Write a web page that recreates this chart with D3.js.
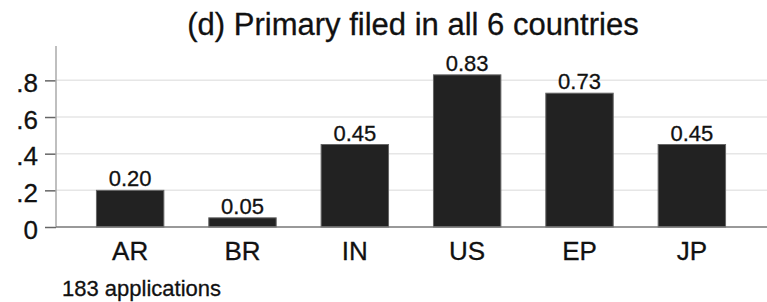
<!DOCTYPE html>
<html>
<head>
<meta charset="utf-8">
<script src="https://cdn.jsdelivr.net/npm/d3@7"></script>
<style>
  body { margin: 0; background: #fff; }
  text { font-family: "Liberation Sans", Arial, Helvetica, sans-serif; fill: #111; stroke: #111; stroke-width: 0.3px; }
</style>
</head>
<body>
<svg id="chart" width="767" height="302"></svg>
<script>
const countries = ['AR', 'BR', 'IN', 'US', 'EP', 'JP'];
const shares = [0.20, 0.05, 0.45, 0.83, 0.73, 0.45];
const yTicks = [0, 0.2, 0.4, 0.6, 0.8];
const title = '(d) Primary filed in all 6 countries';
const note = '183 applications';

const svg = d3.select('#chart');
const width = 767;

const x = d3.scaleBand()
    .domain(countries)
    .range([56, 766])
    .paddingInner(0.4)
    .paddingOuter(0.36);

const y = d3.scaleLinear()
    .domain([0, 1])
    .range([227, 43.7]);

// gridlines
svg.append('g')
    .selectAll('line')
    .data(yTicks.filter(d => d > 0))
    .join('line')
    .attr('x1', 56)
    .attr('x2', width)
    .attr('y1', d => y(d))
    .attr('y2', d => y(d))
    .attr('stroke', '#e6e6e6')
    .attr('stroke-width', 1.5);

// y axis
const yAxis = svg.append('g')
    .attr('transform', 'translate(56,0)')
    .call(d3.axisLeft(y)
        .tickValues(yTicks)
        .tickSize(11)
        .tickPadding(7)
        .tickFormat(d => d === 0 ? '0' : d3.format('.1f')(d).replace(/^0/, '')));
yAxis.select('.domain').remove();
yAxis.selectAll('.tick line').attr('stroke', '#666').attr('stroke-width', 1.5);
yAxis.selectAll('.tick text')
    .attr('dy', '11')
    .style('font-size', '26px')
    .style('font-family', '"Liberation Sans", Arial, sans-serif')
    .attr('fill', '#111');

svg.append('line')
    .attr('x1', 56).attr('x2', 56)
    .attr('y1', 46).attr('y2', y(0))
    .attr('stroke', '#aaa')
    .attr('stroke-width', 1.5);

// bars
svg.append('g')
    .selectAll('rect')
    .data(countries)
    .join('rect')
    .attr('x', d => x(d))
    .attr('width', x.bandwidth())
    .attr('y', (d, i) => y(shares[i]))
    .attr('height', (d, i) => y(0) - y(shares[i]))
    .attr('fill', '#222')
    .attr('stroke', '#666')
    .attr('stroke-width', 1);

// baseline
svg.append('line')
    .attr('x1', 56).attr('x2', width)
    .attr('y1', y(0)).attr('y2', y(0))
    .attr('stroke', '#777')
    .attr('stroke-width', 1.5);

// value labels
svg.append('g')
    .selectAll('text')
    .data(countries)
    .join('text')
    .attr('x', d => x(d) + x.bandwidth() / 2)
    .attr('y', (d, i) => y(shares[i]) - 4)
    .attr('text-anchor', 'middle')
    .style('font-size', '22px')
    .text((d, i) => d3.format('.2f')(shares[i]));

// x labels
svg.append('g')
    .selectAll('text')
    .data(countries)
    .join('text')
    .attr('x', d => x(d) + x.bandwidth() / 2)
    .attr('y', 260)
    .attr('text-anchor', 'middle')
    .style('font-size', '26px')
    .text(d => d);

svg.append('text')
    .attr('x', 413)
    .attr('y', 35)
    .attr('text-anchor', 'middle')
    .style('font-size', '31px')
    .text(title);

svg.append('text')
    .attr('x', 62)
    .attr('y', 296)
    .style('font-size', '22px')
    .text(note);
</script>
</body>
</html>
